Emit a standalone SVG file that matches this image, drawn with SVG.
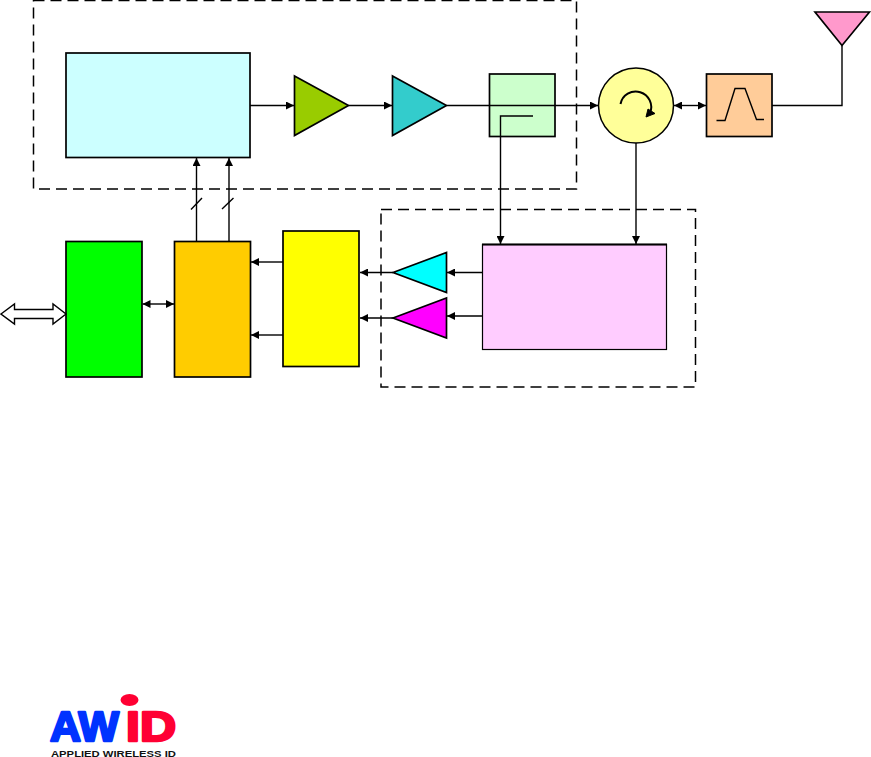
<svg xmlns="http://www.w3.org/2000/svg" width="871" height="757" viewBox="0 0 871 757">
<style>
.b{stroke:#000;stroke-width:1.7}
.d{fill:none;stroke:#000;stroke-width:1.5;stroke-dasharray:11 6}
.c{fill:none;stroke:#000;stroke-width:1.4}
.a{marker-end:url(#ah)}
.s{marker-start:url(#as);marker-end:url(#ah)}
</style>
<defs>
<marker id="ah" markerUnits="userSpaceOnUse" markerWidth="9" markerHeight="8" refX="8" refY="4" orient="auto"><path d="M0 0L8 4L0 8Z"/></marker>
<marker id="as" markerUnits="userSpaceOnUse" markerWidth="9" markerHeight="8" refX="0" refY="4" orient="auto"><path d="M8 0L0 4L8 8Z"/></marker>
</defs>
<rect width="871" height="757" fill="#fff"/>
<g id="tx-boundary"><rect class="d" x="33.500" y="0.500" width="543" height="188.500"/></g>
<g id="rx-boundary"><rect class="d" x="381" y="209.500" width="314.500" height="177.500"/></g>
<g id="source"><rect class="b" x="66" y="53" width="184" height="104.500" fill="#ccffff"/></g>
<g id="driver"><path class="b" d="M294.500 76L348.500 105.500L294.500 135.500Z" fill="#99cc00"/></g>
<g id="pa"><path class="b" d="M392.500 76L446.500 105.500L392.500 135.500Z" fill="#33cccc"/></g>
<g id="coupler"><rect class="b" x="489.500" y="74" width="65.500" height="62.500" fill="#ccffcc"/></g>
<g id="circulator"><circle cx="636" cy="105.500" r="37.500" fill="#ffff99" stroke="#000" stroke-width="1.500"/><path d="M620.500 104A15.500 15.500 0 1 1 650 113" fill="none" stroke="#000" stroke-width="2"/><path d="M646 117L655 113.500L648 109Z" stroke="#000"/></g>
<g id="filter"><rect class="b" x="706.500" y="74" width="65.500" height="62.500" fill="#ffcc99"/><path class="c" d="M716.500 120.500H725L735 88.500H745L756.500 119.500H764"/></g>
<g id="antenna"><path class="b" d="M815 12H869.500L842 45.500Z" fill="#ff99cc"/></g>
<g id="processor"><rect class="b" x="66" y="241.500" width="76" height="135.500" fill="#00ff00"/></g>
<g id="controller"><rect class="b" x="174.500" y="241.500" width="76" height="135.500" fill="#ffcc00"/></g>
<g id="adc"><rect class="b" x="283" y="231" width="76" height="135.500" fill="#ffff00"/></g>
<g id="rx-amp-i"><path class="b" d="M393 272.500L446.500 252.500V292.500Z" fill="#00ffff"/></g>
<g id="rx-amp-q"><path class="b" d="M393 318L446.500 298V338Z" fill="#ff00ff"/></g>
<g id="demodulator"><rect x="482.500" y="244.500" width="184" height="105" fill="#ffccff" stroke="#000" stroke-width="1.200"/><path d="M482 244.500H667" stroke="#000" stroke-width="1.800"/></g>
<g id="host-bus"><path d="M1 314L14.500 304V309.500H53V304L66 314L53 324V318.500H14.500V324Z" fill="#fff" stroke="#000" stroke-width="1.400"/></g>
<g id="connectors">
<path class="c a" d="M250 105.500H294"/>
<path class="c a" d="M348.500 105.500H392"/>
<path class="c a" d="M446.500 105.500H598"/>
<path class="c s" d="M674 105.500H706"/>
<path class="c" d="M772 105.500H842V45.500"/>
<path class="c a" d="M533 116H500.500V244"/>
<path class="c a" d="M636 143V244"/>
<path class="c a" d="M196.500 241V158"/>
<path class="c a" d="M229 241V158"/>
<path class="c" d="M191 209.500L202 198M222 209L233.500 198"/>
<path class="c s" d="M142.500 304H174"/>
<path class="c a" d="M283 262H251"/>
<path class="c a" d="M283 335H251"/>
<path class="c a" d="M393 272.500H360"/>
<path class="c a" d="M393 318H360"/>
<path class="c a" d="M482 272.500H447"/>
<path class="c a" d="M482 316H447"/>
</g>
<g id="logo" font-family="'Liberation Sans',Arial,sans-serif">
<text x="50" y="741" font-size="42" font-weight="bold" fill="#0033ff" stroke="#0033ff" stroke-width="2.500" stroke-linejoin="round" textLength="69" lengthAdjust="spacingAndGlyphs">AW</text>
<text x="126" y="741" font-size="42" font-weight="bold" fill="#ff0033" stroke="#ff0033" stroke-width="2.500" stroke-linejoin="round" textLength="50" lengthAdjust="spacingAndGlyphs">ID</text>
<ellipse cx="129.500" cy="700" rx="9" ry="6" fill="#ff0033"/>
<text x="51" y="756.500" font-size="9.500" font-weight="bold" fill="#111" textLength="125" lengthAdjust="spacingAndGlyphs">APPLIED WIRELESS ID</text>
</g>
</svg>
